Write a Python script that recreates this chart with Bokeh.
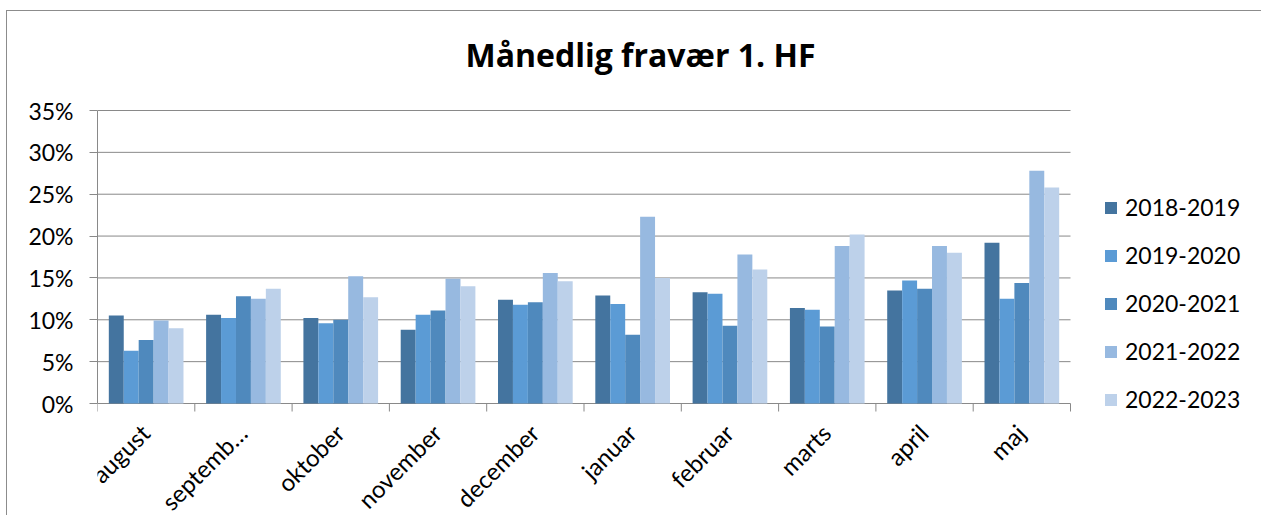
import numpy as np
from bokeh.plotting import figure
from bokeh.models import (FixedTicker, PrintfTickFormatter, Legend, LegendItem,
                          Range1d, Label)
from bokeh.core.properties import value
from bokeh.embed import file_html
from bokeh.resources import INLINE

months = ["august", "september", "oktober", "november", "december",
          "januar", "februar", "marts", "april", "maj"]
month_labels = ["august", "septemb…", "oktober", "november", "december",
                "januar", "februar", "marts", "april", "maj"]
series = ["2018-2019", "2019-2020", "2020-2021", "2021-2022", "2022-2023"]

v2018_2019 = [10.5, 10.6, 10.2, 8.8, 12.4, 12.9, 13.3, 11.4, 13.5, 19.2]
v2019_2020 = [6.3, 10.2, 9.6, 10.6, 11.8, 11.9, 13.1, 11.2, 14.7, 12.5]
v2020_2021 = [7.6, 12.8, 10.0, 11.1, 12.1, 8.2, 9.3, 9.2, 13.7, 14.4]
v2021_2022 = [9.9, 12.5, 15.2, 14.9, 15.6, 22.3, 17.8, 18.8, 18.8, 27.8]
v2022_2023 = [9.0, 13.7, 12.7, 14.0, 14.6, 15.0, 16.0, 20.2, 18.0, 25.8]
yticks = [0, 5, 10, 15, 20, 25, 30, 35]

colors = ["#44749F", "#5B9BD5", "#4F89BD", "#97B9E0", "#BDD1EA"]
values = [v2018_2019, v2019_2020, v2020_2021, v2021_2022, v2022_2023]

FONT = "Lato"
GRAY = "#898989"

# layout (pixels inside the figure)
W, H = 1255, 505
LEFT = 90            # left edge of plot area
AREA_W = 973         # width of the category area
AREA_TOP, AREA_BOTTOM = 99, 392
n = len(months)
ymax = yticks[-1]
ppu_x = AREA_W / n
ppu_y = (AREA_BOTTOM - AREA_TOP) / ymax
x_end = (W - LEFT) / ppu_x
y_start = -(H - AREA_BOTTOM) / ppu_y
y_end = ymax + AREA_TOP / ppu_y

p = figure(width=W, height=H, output_backend="svg", toolbar_location=None,
           x_range=Range1d(0, x_end), y_range=Range1d(y_start, y_end),
           min_border_left=LEFT, min_border_right=0, min_border_top=0,
           min_border_bottom=0)
p.styles = {"margin-left": "6px", "margin-top": "10px",
            "border-left": "1px solid #8c8c8c", "border-top": "1px solid #8c8c8c"}

# title
p.add_layout(Label(x=640 - 7 - LEFT, y=H - 43, x_units="screen", y_units="screen",
                   text="Månedlig fravær 1. HF", text_align="center",
                   text_baseline="middle", text_font="Open Sans",
                   text_font_size="32px", text_font_style="bold",
                   text_color="black"))

# horizontal gridlines (incl. the category axis line at 0)
p.segment(x0=[0] * len(yticks), x1=[n] * len(yticks), y0=yticks, y1=yticks,
          line_color=GRAY, line_width=1)
# category boundary tick marks
bounds = list(range(n + 1))
p.segment(x0=bounds, x1=bounds, y0=[0] * (n + 1), y1=[-8 / ppu_y] * (n + 1),
          line_color=GRAY, line_width=1)

centers = np.arange(n) + 0.5
bw = 0.1535
items = []
for i, (name, vals, col) in enumerate(zip(series, values, colors)):
    r = p.vbar(x=centers + (i - 2) * bw, top=vals, width=bw, bottom=0,
               fill_color=col, line_color=None)
    items.append(LegendItem(label=name, renderers=[r]))

# category labels, rotated 45 degrees
p.text(x=centers, y=[0] * n, text=month_labels, angle=np.pi / 4,
       x_offset=-1, y_offset=25, text_align="right", text_baseline="middle",
       text_font=value(FONT), text_font_size="24px", text_color="black")

legend = Legend(items=items, location=(1006, 103), orientation="vertical",
                glyph_width=15, glyph_height=15, label_standoff=7, spacing=20,
                padding=0, margin=0, border_line_color=None,
                background_fill_alpha=0, label_text_font=FONT,
                label_text_font_size="23px", label_text_color="black")
p.add_layout(legend)

# y axis
p.yaxis.bounds = (0, ymax)
p.yaxis.ticker = FixedTicker(ticks=yticks)
p.yaxis.formatter = PrintfTickFormatter(format="%d%%")
p.yaxis.major_label_text_font = FONT
p.yaxis.major_label_text_font_size = "23px"
p.yaxis.major_label_text_color = "black"
p.yaxis.axis_line_color = GRAY
p.yaxis.major_tick_line_color = GRAY
p.yaxis.major_tick_out = 8
p.yaxis.major_tick_in = 0
p.yaxis.minor_tick_line_color = None
p.yaxis.major_label_standoff = 16

p.xaxis.visible = False
p.xgrid.grid_line_color = None
p.ygrid.grid_line_color = None
p.outline_line_color = None
p.background_fill_color = "white"
p.border_fill_color = "white"

open("out.html", "w").write(file_html(p, INLINE))
